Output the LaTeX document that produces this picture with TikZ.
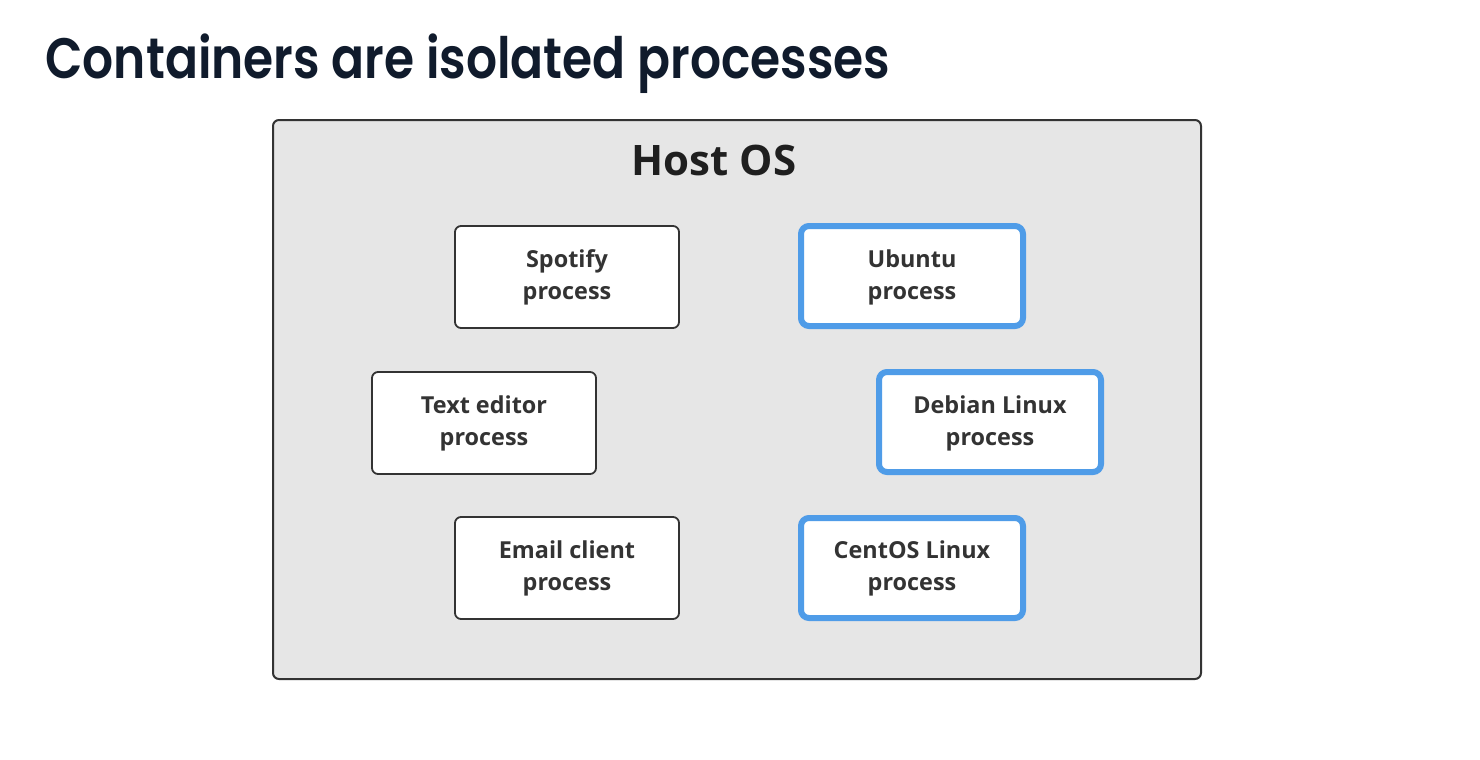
\documentclass[tikz,border=0pt]{standalone}
\usepackage{fontspec}
\setmainfont{Open Sans}
\newfontfamily\titlefont{Poppins SemiBold}
\definecolor{hostfill}{HTML}{E6E6E6}
\definecolor{edge}{HTML}{333333}
\definecolor{txt}{HTML}{333333}
\definecolor{blueedge}{HTML}{4F9CE8}
\definecolor{titlecol}{HTML}{101B2C}
\begin{document}
\begin{tikzpicture}[x=0.5pt,y=-0.5pt,
  hostbox/.style={draw=edge,line width=1pt,fill=hostfill,rounded corners=3pt},
  procbox/.style={draw=edge,line width=0.9pt,fill=white,rounded corners=3pt},
  contbox/.style={draw=blueedge,line width=3pt,fill=white,rounded corners=4pt},
  lbl/.style={font=\fontsize{11.7}{16}\selectfont\bfseries,text=txt,align=center}]
\useasboundingbox (0,0) rectangle (1480,760);
\node[anchor=base west,font=\titlefont\fontsize{28.5}{34}\selectfont,text=titlecol,inner sep=0] (title) at (45,78) {\resizebox{422.5pt}{\height}{Containers are isolated processes}};
\draw[hostbox] (273,120) rectangle (1201,679);
\node[font=\fontsize{21}{25}\selectfont\bfseries,text=black!88] (host) at (714,160) {Host OS};
\draw[procbox] (455,226) rectangle (679,328);
\node[lbl] (spotify) at (567,277) {Spotify\\process};
\draw[procbox] (372,372) rectangle (596,474);
\node[lbl] (editor) at (484,423) {Text editor\\process};
\draw[procbox] (455,517) rectangle (679,619);
\node[lbl] (email) at (567,568) {Email client\\process};
\draw[contbox] (801,226) rectangle (1023,326);
\node[lbl] (ubuntu) at (912,277) {Ubuntu\\process};
\draw[contbox] (879,372) rectangle (1101,472);
\node[lbl] (debian) at (990,423) {Debian Linux\\process};
\draw[contbox] (801,518) rectangle (1023,618);
\node[lbl] (centos) at (912,568) {CentOS Linux\\process};
\end{tikzpicture}
\end{document}
